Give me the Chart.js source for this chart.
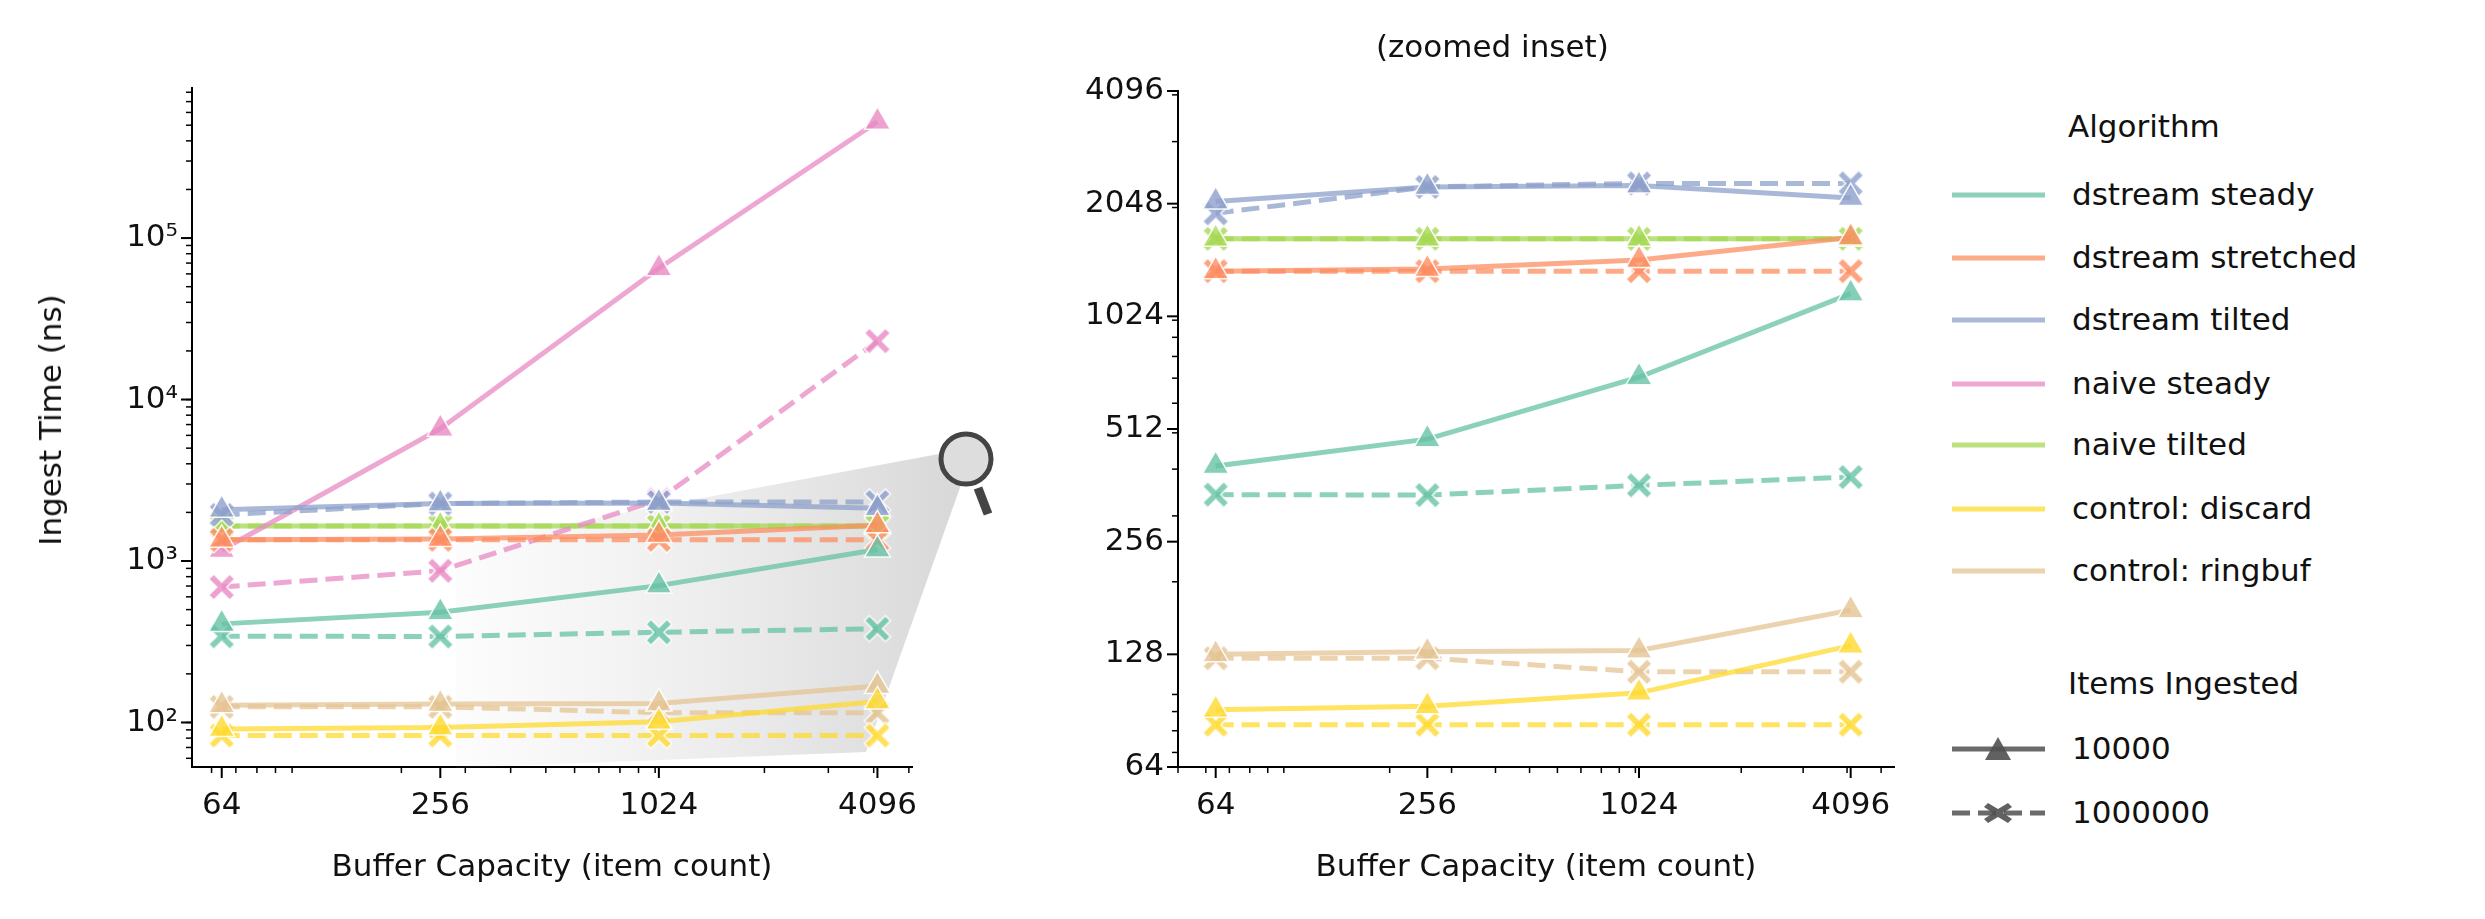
<!DOCTYPE html>
<html><head><meta charset="utf-8">
<script src="https://cdn.jsdelivr.net/npm/chart.js@4"></script>
<style>
body{margin:0;background:#fff;font-family:"DejaVu Sans",sans-serif;}
#wrap{position:relative;width:2485px;height:919px;overflow:hidden}
canvas{position:absolute;top:0}
.t{position:absolute;font-size:31px;color:#111;white-space:nowrap}
</style></head><body>
<div id="wrap">
<canvas id="left" style="left:0"></canvas>
<canvas id="right" style="left:1000px"></canvas>
<div class="t" style="left:1376px;top:28px">(zoomed inset)</div>
<div class="t" style="top:420px;transform:translate(-50%,-50%) rotate(-90deg);left:50px">Ingest Time (ns)</div>
<div id="legend"></div>
</div>
<script>
const capacities = [64, 256, 1024, 4096];
const algorithms = ['dstream steady', 'dstream stretched', 'dstream tilted', 'naive steady', 'naive tilted', 'control: discard', 'control: ringbuf'];
const colors = ['102,194,165', '252,141,98', '141,160,203', '231,138,195', '166,216,84', '255,217,47', '229,196,148'];
// ns, items ingested = 10000
const small = [
  [408, 481, 704, 1178],
  [1352, 1370, 1448, 1664],
  [2075, 2270, 2290, 2120],
  [1170, 6600, 65000, 525000],
  [1650, 1650, 1650, 1650],
  [91, 93, 101, 135],
  [128, 130, 131, 168]
];
// ns, items ingested = 1000000
const large = [
  [342, 341, 362, 381],
  [1352, 1352, 1352, 1352],
  [1930, 2270, 2320, 2320],
  [690, 870, 2400, 23000],
  [1650, 1650, 1650, 1650],
  [83, 83, 83, 83],
  [125, 125, 115, 115]
];
const leftTicks = [100, 1000, 10000, 100000];
const leftLabels = ['10²', '10³', '10⁴', '10⁵'];
const rightTicks = [64, 128, 256, 512, 1024, 2048, 4096];

const FONT = {family: 'DejaVu Sans', size: 31};
Chart.defaults.color = '#111';

function xMarker(rgb) {
  const c = document.createElement('canvas');
  c.width = 34; c.height = 34;
  const g = c.getContext('2d');
  g.translate(17, 17);
  const a = 13, w = 5;
  g.beginPath();
  const pts = [[0,-w],[a-w,-a],[a,-a+w],[w,0],[a,a-w],[a-w,a],[0,w],[-a+w,a],[-a,a-w],[-w,0],[-a,-a+w],[-a+w,-a]];
  pts.forEach((p, i) => i ? g.lineTo(p[0], p[1]) : g.moveTo(p[0], p[1]));
  g.closePath();
  g.fillStyle = 'rgba(' + rgb + ',0.8)';
  g.strokeStyle = 'rgba(255,255,255,0.9)';
  g.lineWidth = 1.5;
  g.fill(); g.stroke();
  return c;
}

function makeDatasets(skip) {
  const ds = [];
  algorithms.forEach((name, i) => {
    if (skip && i === 3) return;
    const rgb = colors[i];
    ds.push({
      data: capacities.map((x, j) => ({x, y: small[i][j]})),
      borderColor: 'rgba(' + rgb + ',0.75)', borderWidth: 5,
      pointStyle: 'triangle', pointRadius: 15,
      pointBackgroundColor: 'rgba(' + rgb + ',0.8)', pointBorderColor: 'rgba(255,255,255,0.9)', pointBorderWidth: 1.5
    });
    ds.push({
      data: capacities.map((x, j) => ({x, y: large[i][j]})),
      borderColor: 'rgba(' + rgb + ',0.75)', borderWidth: 5, borderDash: [18, 8],
      pointStyle: xMarker(rgb), pointRadius: 15
    });
  });
  return ds;
}

const minorTicks = {
  id: 'minorTicks',
  afterDraw(chart) {
    const g = chart.ctx;
    g.save();
    g.strokeStyle = '#000';
    Object.values(chart.scales).forEach(s => {
      const horiz = s.isHorizontal();
      const draw = (v, len, lw) => {
        const p = s.getPixelForValue(v);
        g.lineWidth = lw;
        g.beginPath();
        if (horiz) { g.moveTo(p, s.top); g.lineTo(p, s.top + len); }
        else { g.moveTo(s.right, p); g.lineTo(s.right - len, p); }
        g.stroke();
      };
      for (let k = 0; k < 7; k++) for (let d = 1; d < 10; d++) {
        const v = d * Math.pow(10, k);
        if (v >= s.min && v <= s.max) draw(v, 6, 1.5);
      }
      s.ticks.forEach(t => draw(t.value, 11, 2));
    });
    g.restore();
  }
};

const magnifier = {
  id: 'magnifier',
  beforeDatasetsDraw(chart) {
    const g = chart.ctx;
    g.save();
    const grad = g.createLinearGradient(456, 0, 950, 0);
    grad.addColorStop(0, 'rgba(200,200,200,0.05)');
    grad.addColorStop(1, 'rgba(170,170,170,0.45)');
    g.fillStyle = grad;
    g.beginPath();
    g.moveTo(456, 544); g.lineTo(944, 453); g.lineTo(962, 482); g.lineTo(866, 752); g.lineTo(456, 768);
    g.closePath(); g.fill();
    g.restore();
  },
  afterDraw(chart) {
    const g = chart.ctx;
    g.save();
    g.strokeStyle = '#444';
    g.lineWidth = 9; g.lineCap = 'butt';
    g.beginPath(); g.moveTo(978, 488); g.lineTo(988, 514); g.stroke();
    g.fillStyle = '#ddd'; g.lineWidth = 5;
    g.beginPath(); g.arc(966, 459, 25, 0, Math.PI * 2); g.fill(); g.stroke();
    g.restore();
  }
};

function axisBase() {
  return {
    border: {display: true, color: '#000', width: 2},
    grid: {display: false, drawTicks: false},
    ticks: {font: FONT, color: '#111', padding: 20}
  };
}

function makeChart(id, w, skip, yMin, yMax, xMin, xMax, yTicks, yLabels, yWidth, padRight, padTop, plugins) {
  const cv = document.getElementById(id);
  cv.width = w; cv.height = 919;
  const x = axisBase(), y = axisBase();
  Object.assign(x, {type: 'logarithmic', min: xMin, max: xMax,
    title: {display: true, text: 'Buffer Capacity (item count)', font: FONT, color: '#111', padding: {top: 4}},
    afterBuildTicks: s => { s.ticks = capacities.map(v => ({value: v})); },
    afterFit: s => { s.height = 124; }});
  x.ticks.callback = v => String(v);
  Object.assign(y, {type: 'logarithmic', min: yMin, max: yMax,
    afterBuildTicks: s => { s.ticks = yTicks.map(v => ({value: v})); },
    afterFit: s => { s.width = yWidth; }});
  y.ticks.callback = v => yLabels ? yLabels[yTicks.indexOf(v)] : String(v);
  y.ticks.padding = 14;
  new Chart(cv, {
    type: 'line',
    data: {datasets: makeDatasets(skip)},
    options: {
      responsive: false, animation: false, clip: false,
      layout: {padding: {top: padTop, right: padRight, left: 0, bottom: 28}},
      plugins: {legend: {display: false}, tooltip: {enabled: false}},
      scales: {x, y}
    },
    plugins: [minorTicks].concat(plugins)
  });
}

makeChart('left', 1000, false, 53, 850000, 53, 5100, leftTicks, leftLabels, 192, 88, 88, [magnifier]);
makeChart('right', 930, true, 64, 4096, 50, 5440, rightTicks, null, 178, 36, 91, []);

// legend
const lg = document.getElementById('legend');
let html = '<div class="t" style="left:2068px;top:108px">Algorithm</div>';
const ys = [195, 258, 320, 384, 445, 509, 571];
const lx = 1952, tx = 2072;
algorithms.forEach((a, i) => {
  html += '<svg style="position:absolute;left:' + lx + 'px;top:' + (ys[i] - 4) + 'px" width="95" height="8"><line x1="0" y1="4" x2="93" y2="4" stroke="rgba(' + colors[i] + ',0.75)" stroke-width="5"/></svg>';
  html += '<div class="t" style="left:' + tx + 'px;top:' + (ys[i] - 19) + 'px">' + a + '</div>';
});
html += '<div class="t" style="left:2068px;top:665px">Items Ingested</div>';
html += '<svg style="position:absolute;left:' + lx + 'px;top:734px" width="95" height="30"><line x1="0" y1="15" x2="93" y2="15" stroke="rgba(80,80,80,0.85)" stroke-width="5"/><polygon points="46,3 59,26 33,26" fill="rgba(80,80,80,0.9)"/></svg>';
html += '<svg style="position:absolute;left:' + lx + 'px;top:798px" width="95" height="30"><line x1="0" y1="15" x2="93" y2="15" stroke="rgba(80,80,80,0.85)" stroke-width="5" stroke-dasharray="18 8"/><path d="M36 5 L46 11 L56 5 L60 9 L51 15 L60 21 L56 25 L46 19 L36 25 L32 21 L41 15 L32 9 Z" fill="rgba(80,80,80,0.9)"/></svg>';
html += '<div class="t" style="left:' + tx + 'px;top:730px">10000</div>';
html += '<div class="t" style="left:' + tx + 'px;top:794px">1000000</div>';
lg.innerHTML = html;
</script>
</body></html>
